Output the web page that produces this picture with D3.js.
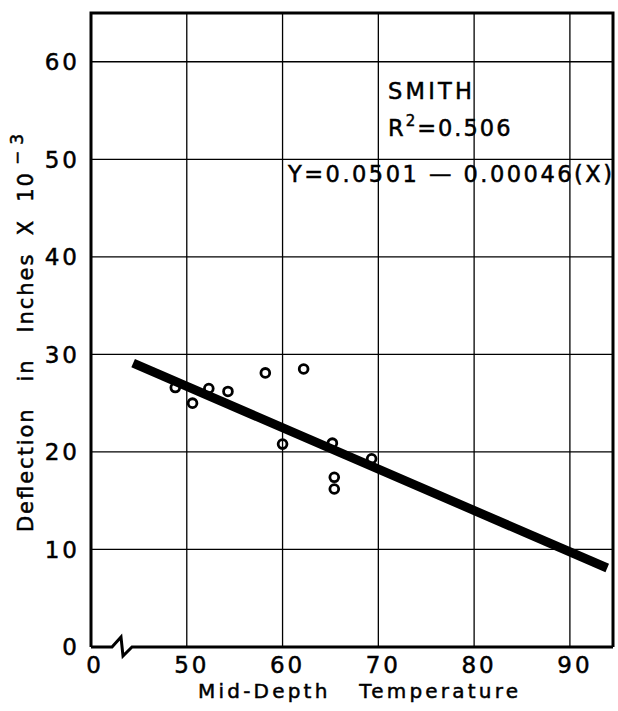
<!DOCTYPE html>
<html>
<head>
<meta charset="utf-8">
<script src="https://cdn.jsdelivr.net/npm/d3@7"></script>
<style>
  html, body { margin: 0; padding: 0; background: #fff; }
  svg { display: block; font-family: "DejaVu Sans", sans-serif; }
  text { fill: #000; stroke: #000; stroke-width: 0.5px; }
</style>
</head>
<body>
<div id="chart"></div>
<script>
// ---- data ----
const temperature = [48.8, 50.6, 52.3, 54.3, 58.2, 62.2, 60.0, 65.2, 65.4, 65.4, 69.3];
const deflection  = [26.6, 25.0, 26.5, 26.2, 28.1, 28.5, 20.8, 20.9, 17.4, 16.2, 19.3];
const fitX = [44.4, 93.9];
const fitY = [29.1, 8.1];
const xTicks = [50, 60, 70, 80, 90];
const yTicks = [0, 10, 20, 30, 40, 50, 60];
const xTitle = "Mid-Depth\u00A0\u00A0 Temperature";
const yTitle = "Deflection\u00A0\u00A0 in\u00A0\u00A0 Inches\u00A0 X\u00A0 10";
const annotation = ["SMITH", "0.506", "Y=0.0501 \u2014 0.00046(X)"];

const W = 618, H = 711;
const svg = d3.select("#chart").append("svg").attr("width", W).attr("height", H);

const x = d3.scaleLinear().domain([40, 94.5]).range([91, 613]);
const y = d3.scaleLinear().domain([0, 65]).range([647, 13]);
const [x0, x1] = x.range();
const [yb, yt] = y.range();

// grid
svg.append("g").selectAll("line").data(xTicks).join("line")
  .attr("x1", d => x(d)).attr("x2", d => x(d))
  .attr("y1", yt).attr("y2", yb)
  .attr("stroke", "#000").attr("stroke-width", 1.3);
svg.append("g").selectAll("line").data(yTicks.filter(d => d > 0)).join("line")
  .attr("x1", x0).attr("x2", x1)
  .attr("y1", d => y(d)).attr("y2", d => y(d))
  .attr("stroke", "#000").attr("stroke-width", 1.3);

// frame (left, top, right)
svg.append("path")
  .attr("d", `M${x0},${yb}V${yt}H${x1}V${yb}`)
  .attr("fill", "none").attr("stroke", "#000").attr("stroke-width", 3);
// bottom axis with break
svg.append("path")
  .attr("d", `M${x0},${yb}H${x0 + 21}L${x0 + 30},${yb - 10}L${x0 + 32},${yb + 9}L${x0 + 41},${yb}H${x1}`)
  .attr("fill", "none").attr("stroke", "#000").attr("stroke-width", 3)
  .attr("stroke-linejoin", "miter");

// tick labels
const tickStyle = sel => sel.attr("font-size", 23).attr("letter-spacing", 3);
svg.append("g").selectAll("text").data(yTicks).join("text")
  .attr("x", 80).attr("y", d => y(d)).attr("dy", "0.36em")
  .attr("text-anchor", "end").text(d => d).call(tickStyle);
svg.append("g").selectAll("text").data([0].concat(xTicks)).join("text")
  .attr("x", d => d === 0 ? x0 + 4 : x(d) + 5).attr("y", 673)
  .attr("text-anchor", "middle").text(d => d).call(tickStyle);

// axis titles
svg.append("text")
  .attr("x", 198).attr("y", 698)
  .attr("font-size", 20)
  .attr("textLength", 320).attr("lengthAdjust", "spacing")
  .text(xTitle);

const yT = svg.append("text")
  .attr("transform", "translate(33,532) rotate(-90)")
  .attr("font-size", 21);
yT.append("tspan").attr("textLength", 359).attr("lengthAdjust", "spacing").text(yTitle);
yT.append("tspan").attr("dx", 6).attr("dy", -10).attr("font-size", 17)
  .attr("letter-spacing", 6).text("\u22123");

// fit line
const line = d3.line().x(d => x(d[0])).y(d => y(d[1]));
svg.append("path").datum(fitX.map((v, i) => [v, fitY[i]]))
  .attr("d", line).attr("stroke", "#000").attr("stroke-width", 9).attr("fill", "none");

// points
svg.append("g").selectAll("circle").data(temperature.map((v, i) => [v, deflection[i]])).join("circle")
  .attr("cx", d => x(d[0])).attr("cy", d => y(d[1])).attr("r", 4.4)
  .attr("fill", "none").attr("stroke", "#000").attr("stroke-width", 2.8);

// annotations
svg.append("text").attr("x", 388).attr("y", 99).attr("font-size", 22.5)
  .attr("textLength", 84).attr("lengthAdjust", "spacing").text(annotation[0]);
const r2 = svg.append("text").attr("x", 388).attr("y", 136).attr("font-size", 22.5).attr("letter-spacing", 2);
r2.append("tspan").text("R");
r2.append("tspan").attr("dy", -10).attr("font-size", 15).text("2");
r2.append("tspan").attr("dy", 10).text("=" + annotation[1]);
svg.append("text").attr("x", 288).attr("y", 182).attr("font-size", 22.5)
  .attr("textLength", 324).attr("lengthAdjust", "spacing").text(annotation[2]);
</script>
</body>
</html>
